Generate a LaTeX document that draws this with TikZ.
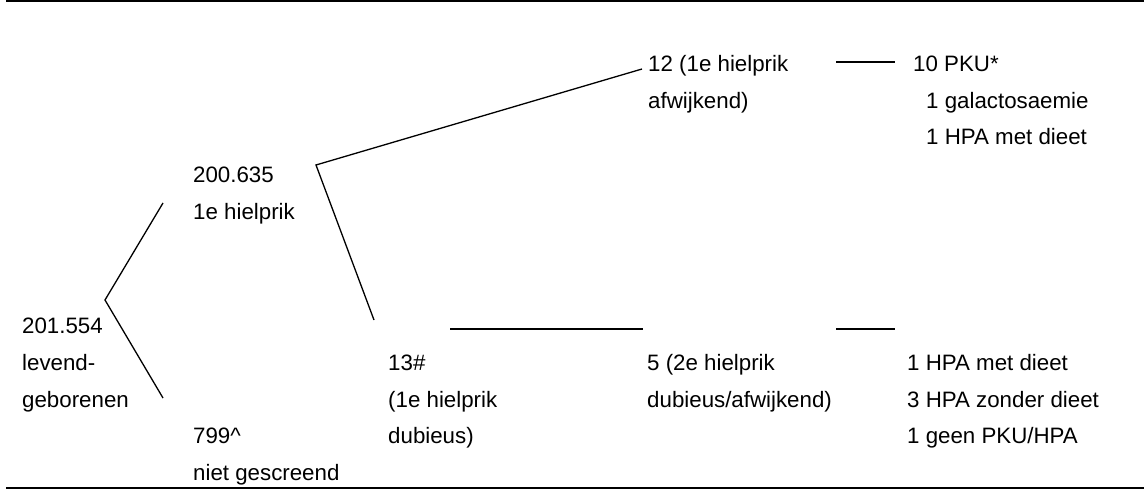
\documentclass[tikz,border=0pt]{standalone}
\usepackage{fontspec}
\setmainfont{Liberation Sans}
\begin{document}
\tikzset{
  lbl/.style={anchor=base west, inner sep=0pt, font=\fontsize{22.3}{26}\selectfont},
  conn/.style={line width=1.3pt, line cap=butt, line join=miter},
  rule/.style={line width=2pt},
  notch/.style={fill=white, draw=none}
}
\begin{tikzpicture}[x=1pt,y=-1pt]
\useasboundingbox (0,0) rectangle (1144,489);
% table rules
\draw[rule] (6,1) -- (1144,1);
\draw[rule] (6,488) -- (1144,488);
\foreach \nx in {177,372,517,631,877}{
  \fill[notch] (\nx-0.5,1.6) rectangle (\nx+0.5,2);
}
% texts
\node[lbl] (b1) at (22,334) {201.554};
\node[lbl] (b2) at (22,370.5) {levend-};
\node[lbl] (b3) at (22,407) {geborenen};
\node[lbl] (s1) at (193,183) {200.635};
\node[lbl] (s2) at (193,220) {1e hielprik};
\node[lbl] (u1) at (193,443.5) {799\textasciicircum};
\node[lbl] (u2) at (193,480) {niet gescreend};
\node[lbl] (d1) at (388,370.5) {13\#};
\node[lbl] (d2) at (388,407) {(1e hielprik};
\node[lbl] (d3) at (388,443.5) {dubieus)};
\node[lbl] (a1) at (648,72) {12 (1e hielprik};
\node[lbl] (a2) at (648,108.5) {afwijkend)};
\node[lbl] (r1) at (913,72) {10 PKU*};
\node[lbl] (r2) at (926,108.5) {1 galactosaemie};
\node[lbl] (r3) at (926,145) {1 HPA met dieet};
\node[lbl] (e1) at (647,370.5) {5 (2e hielprik};
\node[lbl] (e2) at (647,407) {dubieus/afwijkend)};
\node[lbl] (f1) at (907,370.5) {1 HPA met dieet};
\node[lbl] (f2) at (907,407) {3 HPA zonder dieet};
\node[lbl] (f3) at (907,443.5) {1 geen PKU/HPA};
% connector points
\coordinate (v1) at (105,300);
\coordinate (v1u) at (163,203);
\coordinate (v1d) at (163,398);
\coordinate (v2) at (316,165);
\coordinate (v2u) at (642,69);
\coordinate (v2d) at (374,320);
\coordinate (h1a) at (450,329);
\coordinate (h1b) at (643,329);
\coordinate (h2a) at (836,329);
\coordinate (h2b) at (895,329);
\coordinate (h3a) at (836,62);
\coordinate (h3b) at (895,62);
% connectors
\draw[conn] (v1u) -- (v1) -- (v1d);
\draw[conn] (v2u) -- (v2) -- (v2d);
\draw[conn] (h1a) -- (h1b);
\draw[conn] (h2a) -- (h2b);
\draw[conn] (h3a) -- (h3b);
\end{tikzpicture}
\end{document}
